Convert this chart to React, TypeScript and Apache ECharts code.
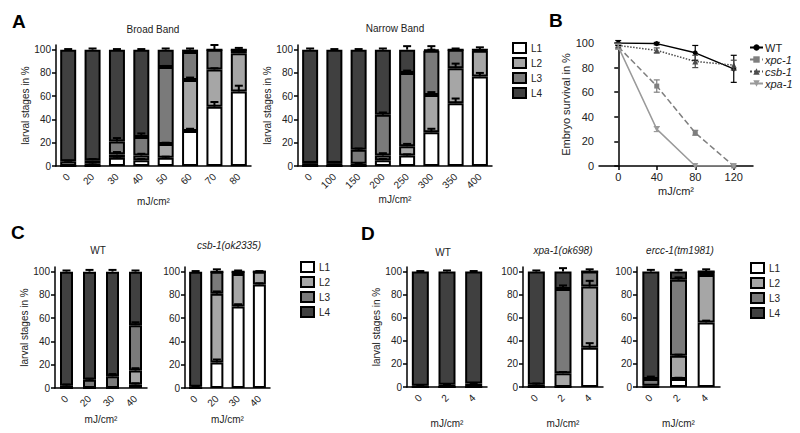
import React, { useEffect, useRef } from "react";
import * as echarts from "echarts";

const FONT = "Liberation Sans, Arial, sans-serif";
const STAGES = ["L1", "L2", "L3", "L4"];
const STAGE_COLORS = ["#ffffff", "#a6a6a6", "#7a7a7a", "#404040"];
const PCT_TICKS = [0, 20, 40, 60, 80, 100];

// ---- Panel A: Broad Band ----
const broadDoses = ["0", "20", "30", "40", "50", "60", "70", "80"];
const broadL1 = [0, 0, 7, 5, 7, 30, 51, 64];
const broadL2 = [0, 2, 3, 4, 12, 44, 32, 33];
const broadL3 = [4, 3, 11, 16, 66, 24, 17, 3];
const broadL4 = [96, 95, 79, 75, 15, 2, 0, 0];
const broadL1Err = [0, 0, 1, 1, 1, 2, 4, 5];
const broadL2Err = [0, 1, 2, 1.5, 1, 2, 1, 1];
const broadL3Err = [0.5, 1, 3, 3, 1, 1, 4, 1.5];
const broadL4Err = [0.5, 1, 0.5, 0.5, 1, 1, 0, 0];

// ---- Panel A: Narrow Band ----
const narrowDoses = ["0", "100", "150", "200", "250", "300", "350", "400"];
const narrowL1 = [0, 0, 0, 5, 9, 29, 54, 77];
const narrowL2 = [0, 0, 2, 4, 8, 32, 30, 22];
const narrowL3 = [2.5, 2.5, 12, 35, 63, 38, 16, 1];
const narrowL4 = [97.5, 97.5, 86, 56, 20, 1, 0, 0];
const narrowL1Err = [0, 0, 0, 1, 1, 3, 4, 3];
const narrowL2Err = [0, 0, 0.5, 2, 2, 2.5, 4, 0];
const narrowL3Err = [1, 1, 1, 2, 2, 1, 1, 2];
const narrowL4Err = [1, 0.5, 0.5, 1, 3, 3, 0, 0];

// ---- Panel B: embryo survival ----
const survDoses = [0, 40, 80, 120];
const survWT = [100, 99.5, 92, 79];
const survWTErr = [2, 1, 6, 11];
const survXpc = [97, 65, 27, 0];
const survXpcErr = [2, 5, 2, 0];
const survCsb = [98, 94, 85, 82];
const survCsbErr = [2, 2, 5, 4];
const survXpa = [97, 30, 0, 0];
const survXpaErr = [2, 2, 0, 0];
const survTicks = [0, 40, 80, 120];

// ---- Panel C: WT ----
const cDoses = ["0", "20", "30", "40"];
const cWtL1 = [0, 0, 0, 3];
const cWtL2 = [0, 0, 0, 12];
const cWtL3 = [2, 7, 10, 39];
const cWtL4 = [98, 93, 90, 46];
const cWtL1Err = [0, 0, 0, 1];
const cWtL2Err = [0, 0, 0, 2];
const cWtL3Err = [1, 1, 2, 2.5];
const cWtL4Err = [1, 1.5, 1.5, 1];

// ---- Panel C: csb-1(ok2335) ----
const cCsbL1 = [0, 22, 70, 89];
const cCsbL2 = [0, 59, 28, 11];
const cCsbL3 = [1, 19, 2, 0];
const cCsbL4 = [99, 0, 0, 0];
const cCsbL1Err = [0, 2.5, 2, 1];
const cCsbL2Err = [0, 2, 0, 0.5];
const cCsbL3Err = [0.5, 2, 1, 0];
const cCsbL4Err = [0.5, 0, 0, 0];

// ---- Panel D ----
const dDoses = ["0", "2", "4"];
const dWtL1 = [0, 0, 0];
const dWtL2 = [0, 0, 0];
const dWtL3 = [1, 2, 3];
const dWtL4 = [99, 98, 97];
const dWtL1Err = [0, 0, 0];
const dWtL2Err = [0, 0, 0];
const dWtL3Err = [0.3, 0.5, 0.5];
const dWtL4Err = [0.5, 1, 0.5];

const dXpaL1 = [0, 0, 34];
const dXpaL2 = [0, 12, 53];
const dXpaL3 = [2, 73, 13];
const dXpaL4 = [98, 15, 0];
const dXpaL1Err = [0, 0, 4];
const dXpaL2Err = [0, 1, 5];
const dXpaL3Err = [1, 3, 2];
const dXpaL4Err = [1, 3, 0];

const dErccL1 = [0, 7, 56];
const dErccL2 = [1, 20, 41];
const dErccL3 = [6, 66, 3];
const dErccL4 = [93, 7, 0];
const dErccL1Err = [0, 1, 1.5];
const dErccL2Err = [0, 1, 1];
const dErccL3Err = [2, 2, 2];
const dErccL4Err = [1.5, 1.5, 0];

type Panel = {
  doses: string[];
  vals: number[][];
  errs: number[][];
  left: number;
  top: number;
  width: number;
  height: number;
  barWidth: number;
  cap: number;
  yName: boolean;
  xNameGap: number;
  title: string;
  titleX: number;
  titleY: number;
  italic: boolean;
};

const axisLineStyle = { color: "#000", width: 1.5 };

function barErrRender(cap: number) {
  return (params: any, api: any) => {
    const x = api.value(0);
    const top = api.value(1);
    const e = api.value(2);
    const p1 = api.coord([x, top]);
    const p2 = api.coord([x, top + e]);
    return {
      type: "group",
      children: [
        { type: "line", shape: { x1: p1[0], y1: p1[1], x2: p1[0], y2: p2[1] }, style: { stroke: "#000", lineWidth: 2 } },
        { type: "line", shape: { x1: p1[0] - cap, y1: p2[1], x2: p1[0] + cap, y2: p2[1] }, style: { stroke: "#000", lineWidth: 2 } },
      ],
    };
  };
}

function addPanel(opt: any, p: Panel) {
  const gi = opt.grid.length;
  opt.grid.push({ left: p.left, top: p.top, width: p.width, height: p.height });
  opt.xAxis.push({
    type: "category",
    gridIndex: gi,
    data: p.doses,
    axisLine: { lineStyle: axisLineStyle },
    axisTick: { alignWithLabel: true, length: 4, lineStyle: axisLineStyle },
    axisLabel: { rotate: 45, fontSize: 10, color: "#222", margin: 9, fontFamily: FONT },
    name: "mJ/cm²",
    nameLocation: "middle",
    nameGap: p.xNameGap,
    nameTextStyle: { fontSize: 10, color: "#222", fontFamily: FONT },
  });
  opt.yAxis.push({
    type: "value",
    gridIndex: gi,
    min: 0,
    max: 104,
    axisLine: { show: true, lineStyle: axisLineStyle },
    axisTick: { show: true, length: 4, lineStyle: axisLineStyle, customValues: PCT_TICKS },
    axisLabel: { fontSize: 10, color: "#222", margin: 5, fontFamily: FONT, customValues: PCT_TICKS },
    splitLine: { show: false },
    name: p.yName ? "larval stages in %" : "",
    nameLocation: "middle",
    nameGap: 22,
    nameTextStyle: { fontSize: 10, color: "#222", fontFamily: FONT },
  });
  STAGES.forEach((s, k) => {
    opt.series.push({
      type: "bar",
      name: s,
      xAxisIndex: gi,
      yAxisIndex: gi,
      stack: "s" + gi,
      data: p.vals[k],
      barWidth: p.barWidth,
      itemStyle: { color: STAGE_COLORS[k], borderColor: "#000", borderWidth: 2 },
    });
  });
  const errData: number[][] = [];
  p.doses.forEach((_, i) => {
    let cum = 0;
    for (let k = 0; k < 4; k++) {
      cum += p.vals[k][i];
      if (p.errs[k][i] > 0) errData.push([i, cum, p.errs[k][i]]);
    }
  });
  opt.series.push({
    type: "custom",
    xAxisIndex: gi,
    yAxisIndex: gi,
    data: errData,
    renderItem: barErrRender(p.cap),
    z: 5,
    silent: true,
    encode: { x: 0, y: 1 },
  });
  opt.graphic.push({
    type: "text",
    x: p.titleX,
    y: p.titleY,
    style: {
      text: p.title,
      fill: "#222",
      font: `${p.italic ? "italic " : ""}10px ${FONT}`,
      textAlign: "center",
      textVerticalAlign: "middle",
    },
  });
}

function stageLegend(left: number, top: number) {
  return {
    left,
    top,
    orient: "vertical",
    icon: "rect",
    data: STAGES,
    itemWidth: 13,
    itemHeight: 10,
    itemGap: 3,
    selectedMode: false,
    textStyle: { fontSize: 10, color: "#222", fontFamily: FONT },
  };
}

function buildOption() {
  const opt: any = {
    animation: false,
    backgroundColor: "#fff",
    grid: [],
    xAxis: [],
    yAxis: [],
    series: [],
    graphic: [],
    legend: [],
  };

  addPanel(opt, {
    doses: broadDoses,
    vals: [broadL1, broadL2, broadL3, broadL4],
    errs: [broadL1Err, broadL2Err, broadL3Err, broadL4Err],
    left: 56, top: 45, width: 195, height: 121,
    barWidth: 16, cap: 4, yName: true, xNameGap: 30,
    title: "Broad Band", titleX: 153, titleY: 29, italic: false,
  });
  addPanel(opt, {
    doses: narrowDoses,
    vals: [narrowL1, narrowL2, narrowL3, narrowL4],
    errs: [narrowL1Err, narrowL2Err, narrowL3Err, narrowL4Err],
    left: 298, top: 45, width: 194, height: 121,
    barWidth: 16, cap: 4, yName: true, xNameGap: 28,
    title: "Narrow Band", titleX: 395, titleY: 28, italic: false,
  });
  addPanel(opt, {
    doses: cDoses,
    vals: [cWtL1, cWtL2, cWtL3, cWtL4],
    errs: [cWtL1Err, cWtL2Err, cWtL3Err, cWtL4Err],
    left: 55, top: 267, width: 92, height: 121,
    barWidth: 13, cap: 4, yName: true, xNameGap: 26,
    title: "WT", titleX: 98, titleY: 250, italic: false,
  });
  addPanel(opt, {
    doses: cDoses,
    vals: [cCsbL1, cCsbL2, cCsbL3, cCsbL4],
    errs: [cCsbL1Err, cCsbL2Err, cCsbL3Err, cCsbL4Err],
    left: 185, top: 267, width: 85, height: 121,
    barWidth: 13, cap: 4, yName: false, xNameGap: 26,
    title: "csb-1(ok2335)", titleX: 229, titleY: 245, italic: true,
  });
  addPanel(opt, {
    doses: dDoses,
    vals: [dWtL1, dWtL2, dWtL3, dWtL4],
    errs: [dWtL1Err, dWtL2Err, dWtL3Err, dWtL4Err],
    left: 407, top: 267, width: 80, height: 120,
    barWidth: 17, cap: 4, yName: true, xNameGap: 31,
    title: "WT", titleX: 443, titleY: 252, italic: false,
  });
  addPanel(opt, {
    doses: dDoses,
    vals: [dXpaL1, dXpaL2, dXpaL3, dXpaL4],
    errs: [dXpaL1Err, dXpaL2Err, dXpaL3Err, dXpaL4Err],
    left: 523, top: 267, width: 80, height: 120,
    barWidth: 17, cap: 4, yName: false, xNameGap: 31,
    title: "xpa-1(ok698)", titleX: 563, titleY: 250, italic: true,
  });
  addPanel(opt, {
    doses: dDoses,
    vals: [dErccL1, dErccL2, dErccL3, dErccL4],
    errs: [dErccL1Err, dErccL2Err, dErccL3Err, dErccL4Err],
    left: 637, top: 267, width: 83, height: 120,
    barWidth: 17, cap: 4, yName: false, xNameGap: 31,
    title: "ercc-1(tm1981)", titleX: 680, titleY: 250, italic: true,
  });

  // ---- Panel B ----
  const gb = opt.grid.length;
  opt.grid.push({ left: 599, top: 43, width: 154, height: 123 });
  opt.xAxis.push({
    type: "value",
    gridIndex: gb,
    min: -20,
    max: 140,
    axisLine: { lineStyle: axisLineStyle },
    axisTick: { length: 4, lineStyle: axisLineStyle, customValues: survTicks },
    axisLabel: { fontSize: 11, color: "#222", margin: 5, fontFamily: FONT, customValues: survTicks },
    splitLine: { show: false },
    name: "mJ/cm²",
    nameLocation: "middle",
    nameGap: 19,
    nameTextStyle: { fontSize: 11, color: "#222", fontFamily: FONT },
  });
  opt.yAxis.push({
    type: "value",
    gridIndex: gb,
    min: 0,
    max: 100,
    interval: 20,
    axisLine: { show: true, lineStyle: axisLineStyle },
    axisTick: { show: true, length: 4, lineStyle: axisLineStyle },
    axisLabel: { fontSize: 11, color: "#222", margin: 5, fontFamily: FONT },
    splitLine: { show: false },
    name: "Embryo survival in %",
    nameLocation: "middle",
    nameGap: 24,
    nameTextStyle: { fontSize: 11, color: "#222", fontFamily: FONT },
  });
  const survSeries = [
    { name: "WT", vals: survWT, errs: survWTErr, color: "#000", type: "solid", symbol: "circle", rot: 0, size: 5 },
    { name: "xpc-1", vals: survXpc, errs: survXpcErr, color: "#7f7f7f", type: "dashed", symbol: "rect", rot: 0, size: 5 },
    { name: "csb-1", vals: survCsb, errs: survCsbErr, color: "#4d4d4d", type: "dotted", symbol: "triangle", rot: 0, size: 6 },
    { name: "xpa-1", vals: survXpa, errs: survXpaErr, color: "#9a9a9a", type: "solid", symbol: "triangle", rot: 180, size: 6 },
  ];
  survSeries.forEach((s) => {
    opt.series.push({
      type: "line",
      name: s.name,
      xAxisIndex: gb,
      yAxisIndex: gb,
      data: survDoses.map((d, i) => [d, s.vals[i]]),
      lineStyle: { color: s.color, width: 1.5, type: s.type },
      itemStyle: { color: s.color },
      symbol: s.symbol,
      symbolRotate: s.rot,
      symbolSize: s.size,
      z: 3,
    });
    opt.series.push({
      type: "custom",
      xAxisIndex: gb,
      yAxisIndex: gb,
      silent: true,
      z: 4,
      data: survDoses.map((d, i) => [d, s.vals[i], s.errs[i]]).filter((r) => r[2] > 0),
      encode: { x: 0, y: 1 },
      renderItem: (params: any, api: any) => {
        const x = api.value(0);
        const y = api.value(1);
        const e = api.value(2);
        const a = api.coord([x, y + e]);
        const b = api.coord([x, y - e]);
        const st = { stroke: s.color, lineWidth: 1.2 };
        return {
          type: "group",
          children: [
            { type: "line", shape: { x1: a[0], y1: a[1], x2: b[0], y2: b[1] }, style: st },
            { type: "line", shape: { x1: a[0] - 3, y1: a[1], x2: a[0] + 3, y2: a[1] }, style: st },
            { type: "line", shape: { x1: b[0] - 3, y1: b[1], x2: b[0] + 3, y2: b[1] }, style: st },
          ],
        };
      },
    });
  });

  opt.legend.push(stageLegend(507, 37));
  opt.legend.push(stageLegend(295, 256));
  opt.legend.push(stageLegend(745, 257));
  opt.legend.push({
    left: 744,
    top: 37,
    orient: "vertical",
    data: survSeries.map((s) => ({
      name: s.name,
      textStyle: { fontStyle: s.name === "WT" ? "normal" : "italic" },
    })),
    itemWidth: 13,
    itemHeight: 8,
    itemGap: 1,
    selectedMode: false,
    textStyle: { fontSize: 11, color: "#222", fontFamily: FONT, padding: [0, 0, 0, -3] },
  });

  const letters = [
    { t: "A", x: 12, y: 21 },
    { t: "B", x: 549, y: 20 },
    { t: "C", x: 11, y: 232 },
    { t: "D", x: 361, y: 233 },
  ];
  letters.forEach((l) => {
    opt.graphic.push({
      type: "text",
      x: l.x,
      y: l.y,
      style: { text: l.t, fill: "#000", font: `bold 19px ${FONT}`, textVerticalAlign: "middle" },
    });
  });
  return opt;
}

export default function App() {
  const ref = useRef<HTMLDivElement>(null);
  useEffect(() => {
    if (!ref.current) return;
    const chart = echarts.init(ref.current, null, { renderer: "svg" });
    chart.setOption(buildOption());
    return () => chart.dispose();
  }, []);
  return (
    <div
      ref={ref}
      style={{ position: "absolute", left: 0, top: 0, width: 800, height: 433, background: "#fff" }}
    />
  );
}
